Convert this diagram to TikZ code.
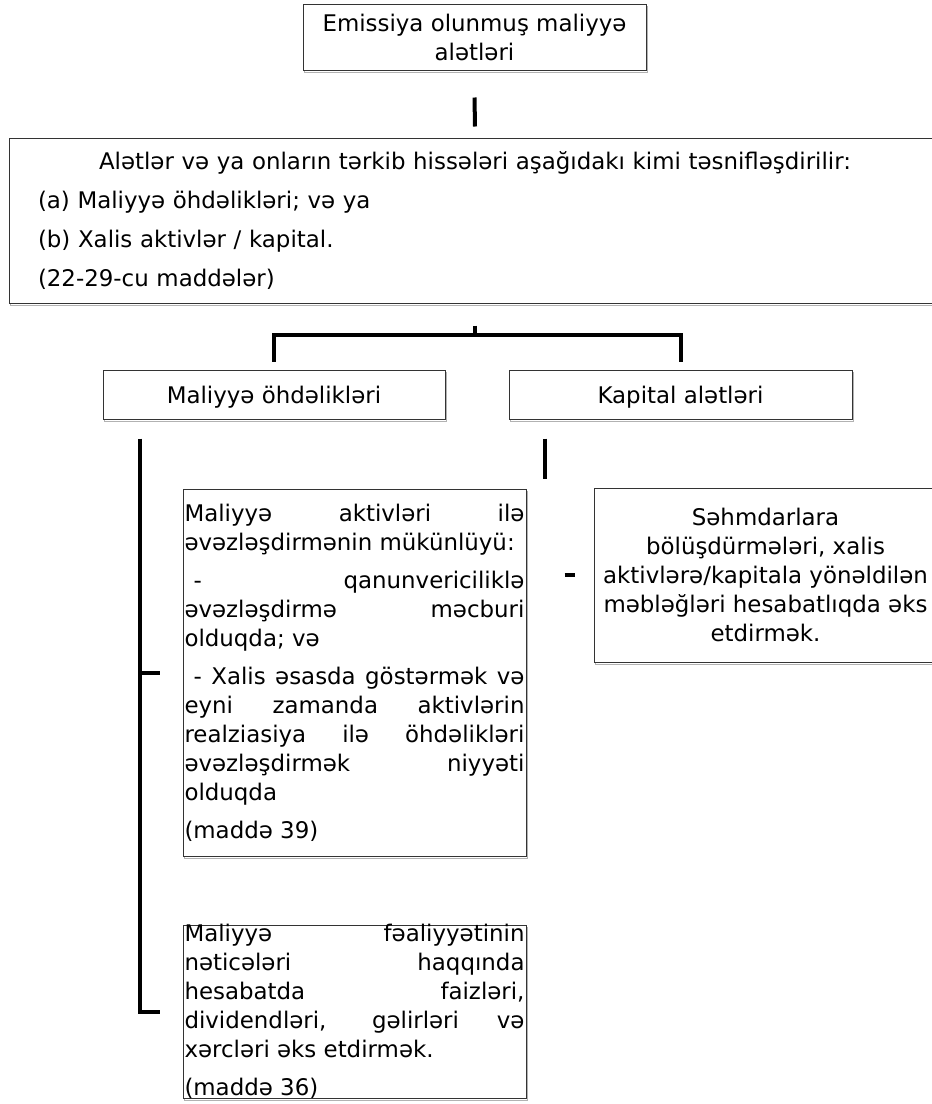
\documentclass[tikz,border=0pt]{standalone}
\usepackage{fontspec}
\setmainfont{DejaVu Sans}
\usetikzlibrary{shadows}

\begin{document}
\begin{tikzpicture}[x=1pt,y=-1pt,
    box/.style={draw=black!80,line width=1pt,fill=white,inner ysep=0pt,
      copy shadow={draw=black!30,shadow xshift=1pt,shadow yshift=-2.5pt},
      font=\fontsize{22.9}{29}\selectfont},
    link/.style={line width=4pt}]
  \useasboundingbox (0,0) rectangle (932,1104);
  \clip (0,0) rectangle (932,1104);

  \node[box,minimum width=343pt,minimum height=66pt,align=center] (src) at (474.5,37)
    {Emissiya olunmuş maliyyə\\alətləri};
  \node[box,text width=874pt,inner xsep=29pt,minimum height=165pt,align=left,
      font=\fontsize{22.9}{38.7}\selectfont] (rules) at (475,220.5)
    {\makebox[\linewidth]{Alətlər və ya onların tərkib hissələri aşağıdakı kimi təsnifləşdirilir:}\\
     (a) Maliyyə öhdəlikləri; və ya\\
     (b) Xalis aktivlər / kapital.\\
     (22-29-cu maddələr)};
  \node[box,minimum width=342pt,minimum height=49pt,text depth=0pt] (liab) at (274,394.5)
    {Maliyyə öhdəlikləri};
  \node[box,minimum width=343pt,minimum height=49pt,text depth=0pt] (equity) at (680.5,394.5)
    {Kapital alətləri};
  \node[box,text width=340pt,inner xsep=1.5pt,minimum height=367pt,align=justify] (offset) at (354.5,672.5)
    {Maliyyə aktivləri ilə\linebreak əvəzləşdirmənin mükünlüyü:\\[9pt]
     \hspace*{0.4em}- qanunvericiliklə\linebreak əvəzləşdirmə məcburi\linebreak olduqda; və\\[9pt]
     \hspace*{0.4em}- Xalis əsasda göstərmək və\linebreak eyni zamanda aktivlərin\linebreak
     realziasiya ilə öhdəlikləri\linebreak əvəzləşdirmək niyyəti\linebreak olduqda\\[9pt]
     (maddə 39)};
  \node[box,text width=340pt,inner xsep=1.5pt,inner ysep=-2pt,minimum height=173pt,align=justify] (result) at (354.5,1011.5)
    {Maliyyə fəaliyyətinin\linebreak nəticələri haqqında\linebreak hesabatda faizləri,\linebreak
     dividendləri, gəlirləri və\linebreak xərcləri əks etdirmək.\\[9pt]
     (maddə 36)};
  \node[box,minimum width=343pt,minimum height=174pt,align=center] (dist) at (765.5,575)
    {Səhmdarlara\\bölüşdürmələri, xalis\\aktivlərə/kapitala yönəldilən\\məbləğləri hesabatlıqda əks\\etdirmək.};

  \draw[link] ([yshift=-27pt]src.south) -- ([yshift=11pt]rules.north);
  \draw[link] ([yshift=-22pt]rules.south) -- ([yshift=-31pt]rules.south);
  \draw[link] ([yshift=8pt]liab.north) |- ([yshift=-31pt]rules.south) -| ([yshift=8pt]equity.north);
  \coordinate (rail) at ([xshift=37pt,yshift=-19pt]liab.south west);
  \draw[link] (rail) |- ([xshift=-23pt]result.west);
  \draw[link] (rail |- offset.west) -- ([xshift=-23pt]offset.west);
  \draw[link] ([xshift=36pt,yshift=-19pt]equity.south west) -- ([xshift=36pt,yshift=-59pt]equity.south west);
  \draw[link] ([xshift=-29pt]dist.west) -- ([xshift=-19pt]dist.west);
\end{tikzpicture}
\end{document}
